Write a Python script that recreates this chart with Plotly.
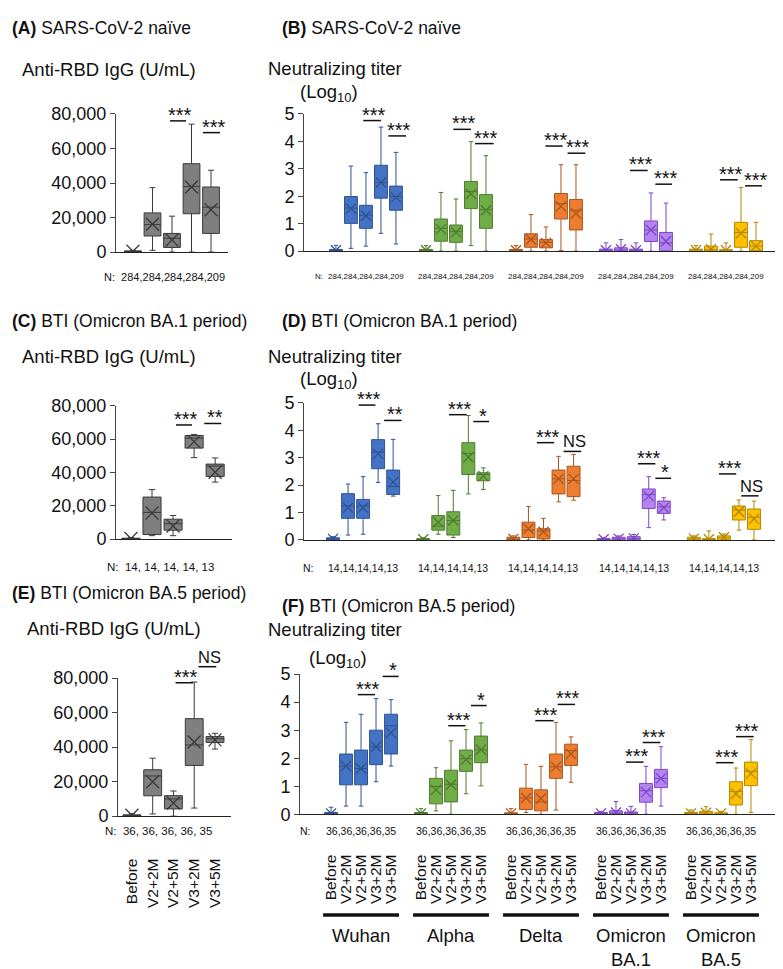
import plotly.graph_objects as go

W, H = 783, 969
FONT = "Liberation Sans, Arial, sans-serif"

timepoints = ["Before", "V2+2M", "V2+5M", "V3+2M", "V3+5M"]
variants = ["Wuhan", "Alpha", "Delta", "Omicron<br>BA.1", "Omicron<br>BA.5"]

# (A) anti-RBD IgG, SARS-CoV-2 naive
a_lo = [0, 1000, 0, 0, 0]
a_q1 = [0, 9300, 2700, 22200, 10800]
a_med = [300, 15900, 8000, 37900, 26000]
a_q3 = [700, 22700, 10800, 51200, 37700]
a_hi = [1000, 37300, 20800, 74100, 47400]
a_mean = [500, 16100, 7000, 37700, 24500]
a_n = [284, 284, 284, 284, 209]

# (C) anti-RBD IgG, BTI BA.1 period
c_lo = [0, 2000, 2000, 48900, 34200]
c_q1 = [0, 2700, 5300, 54600, 37600]
c_med = [200, 16000, 9200, 60600, 43800]
c_q3 = [500, 25200, 11900, 62200, 45000]
c_hi = [800, 29700, 14100, 62800, 48700]
c_mean = [300, 15600, 7800, 58500, 40100]
c_n = [14, 14, 14, 14, 13]

# (E) anti-RBD IgG, BTI BA.5 period
e_lo = [0, 1300, 0, 4700, 38900]
e_q1 = [0, 11800, 4200, 29400, 42700]
e_med = [400, 23300, 10000, 41300, 44900]
e_q3 = [800, 26900, 11900, 56500, 46100]
e_hi = [1500, 33600, 14600, 77700, 48000]
e_mean = [500, 19900, 7600, 43000, 44200]
e_n = [36, 36, 36, 36, 35]

# (B) neutralizing titer (log10), naive; rows = variants
b_lo = [[0, 0.1, 0.18, 0.65, 0.26], [0, 0, 0, 0.2, 0], [0, 0, 0, 0.02, 0], [0, 0, 0, 0, 0], [0, 0, 0, 0, 0]]
b_q1 = [[0, 1.01, 0.83, 1.93, 1.49], [0, 0.36, 0.32, 1.55, 0.83], [0, 0.14, 0.12, 1.17, 0.77], [0, 0, 0, 0.35, 0], [0, 0, 0, 0.14, 0]]
b_med = [[0.02, 1.57, 1.31, 2.5, 1.99], [0.02, 0.83, 0.71, 2.17, 1.51], [0.02, 0.44, 0.32, 1.73, 1.49], [0.02, 0.03, 0.02, 0.77, 0.3], [0.02, 0.05, 0.02, 0.68, 0.18]]
b_q3 = [[0.06, 1.99, 1.67, 3.13, 2.37], [0.06, 1.17, 0.95, 2.54, 2.06], [0.06, 0.63, 0.42, 2.1, 1.88], [0.07, 0.12, 0.07, 1.1, 0.68], [0.07, 0.18, 0.05, 1.05, 0.38]]
b_hi = [[0.21, 3.1, 2.86, 4.52, 3.6], [0.2, 2.14, 1.9, 3.99, 3.48], [0.2, 1.33, 0.88, 3.15, 3.15], [0.3, 0.42, 0.3, 2.12, 1.75], [0.2, 0.62, 0.3, 2.32, 1.05]]
b_mean = [[0.03, 1.55, 1.29, 2.5, 1.96], [0.03, 0.8, 0.69, 2.08, 1.49], [0.03, 0.42, 0.3, 1.63, 1.37], [0.03, 0.07, 0.03, 0.77, 0.36], [0.03, 0.07, 0.03, 0.65, 0.18]]
b_n = [284, 284, 284, 284, 209]

# (D) neutralizing titer, BTI BA.1 period
d_lo = [[0, 0.18, 0.21, 2.1, 1.6], [0, 0.21, 0.09, 1.68, 1.84], [0, 0, 0, 1.39, 1.45], [0, 0, 0, 0.45, 0.73], [0, 0, 0, 0.36, 0]]
d_q1 = [[0, 0.79, 0.79, 2.6, 1.66], [0, 0.36, 0.18, 2.39, 2.16], [0, 0.09, 0.04, 1.68, 1.58], [0, 0, 0, 1.15, 0.97], [0, 0, 0, 0.73, 0.39]]
d_med = [[0.03, 1.24, 1.24, 3.2, 1.95], [0.02, 0.51, 0.71, 3.16, 2.39], [0.03, 0.36, 0.33, 2.23, 2.17], [0.02, 0.04, 0.05, 1.66, 1.21], [0.04, 0.02, 0.08, 1.09, 0.83]]
d_q3 = [[0.08, 1.69, 1.48, 3.66, 2.55], [0.05, 0.89, 1.03, 3.55, 2.45], [0.1, 0.65, 0.41, 2.55, 2.69], [0.05, 0.1, 0.12, 1.86, 1.42], [0.1, 0.05, 0.15, 1.24, 1.13]]
d_hi = [[0.12, 2.04, 2.31, 4.24, 3.67], [0.08, 1.62, 1.81, 4.54, 2.63], [0.15, 1.22, 0.79, 3.05, 3.12], [0.08, 0.15, 0.2, 2.31, 1.54], [0.15, 0.33, 0.22, 1.46, 1.42]]
d_mean = [[0.04, 1.18, 1.18, 3.14, 2.11], [0.03, 0.65, 0.71, 3.02, 2.33], [0.04, 0.41, 0.3, 2.23, 2.23], [0.03, 0.05, 0.06, 1.6, 1.18], [0.05, 0.03, 0.1, 1.03, 0.77]]
d_n = [14, 14, 14, 14, 13]

# (F) neutralizing titer, BTI BA.5 period
f_lo = [[0, 0.29, 0.29, 1.16, 1.72], [0, 0.12, 0, 0.73, 1.01], [0, 0.06, 0, 0.15, 1.14], [0, 0, 0, 0, 0.29], [0, 0, 0, 0, 0.06]]
f_q1 = [[0, 1.05, 1.05, 1.77, 2.15], [0, 0.37, 0.44, 1.53, 1.84], [0, 0.17, 0.12, 1.28, 1.74], [0, 0, 0, 0.43, 0.95], [0, 0, 0, 0.33, 1.02]]
f_med = [[0.02, 1.72, 1.63, 2.41, 3.16], [0.02, 0.99, 1.07, 1.98, 2.3], [0.02, 0.58, 0.44, 1.69, 2.27], [0.02, 0.04, 0.03, 0.84, 1.28], [0.02, 0.04, 0.02, 0.81, 1.53]]
f_q3 = [[0.06, 2.15, 2.29, 3.0, 3.57], [0.06, 1.28, 1.57, 2.29, 2.79], [0.05, 0.93, 0.87, 2.15, 2.5], [0.06, 0.12, 0.08, 1.1, 1.6], [0.06, 0.1, 0.05, 1.16, 1.86]]
f_hi = [[0.25, 3.28, 3.57, 4.13, 4.09], [0.2, 1.66, 2.62, 3.02, 3.26], [0.2, 1.78, 1.71, 3.28, 2.76], [0.1, 0.45, 0.28, 1.71, 2.41], [0.15, 0.27, 0.1, 1.65, 2.67]]
f_mean = [[0.03, 1.72, 1.63, 2.41, 2.91], [0.03, 0.87, 1.05, 1.95, 2.3], [0.03, 0.58, 0.56, 1.69, 2.15], [0.03, 0.06, 0.03, 0.79, 1.28], [0.03, 0.05, 0.03, 0.73, 1.45]]
f_n = [36, 36, 36, 36, 35]

# significance brackets: (group, x0, x1, level, label), x relative to group's first box
sig_a = [(0, 1.9, 2.72, 76000, "***"), (0, 3.59, 4.46, 69200, "***")]
sig_c = [(0, 2.14, 2.9, 68500, "***"), (0, 3.48, 4.29, 69400, "**")]
sig_e = [(0, 2.1, 2.94, 77300, "***"), (0, 3.2, 4.06, 86600, "NS")]
sig_b = [(0, 1.82, 3.0, 4.76, "***"), (0, 3.49, 4.67, 4.2, "***"),
         (1, 1.82, 3.0, 4.44, "***"), (1, 3.27, 4.51, 3.92, "***"),
         (2, 1.96, 3.11, 3.83, "***"), (2, 3.44, 4.62, 3.57, "***"),
         (3, 1.6, 2.78, 2.94, "***"), (3, 3.29, 4.4, 2.44, "***"),
         (4, 1.6, 2.78, 2.6, "***"), (4, 3.27, 4.4, 2.38, "***")]
sig_d = [(0, 1.71, 2.82, 4.92, "***"), (0, 3.4, 4.56, 4.36, "**"),
         (1, 1.71, 2.89, 4.57, "***"), (1, 3.33, 4.38, 4.32, "*"),
         (2, 1.56, 2.71, 3.55, "***"), (2, 3.33, 4.51, 3.23, "NS"),
         (3, 2.29, 3.44, 2.78, "***"), (3, 3.44, 4.49, 2.25, "*"),
         (4, 1.67, 2.82, 2.41, "***"), (4, 3.16, 4.31, 1.61, "NS")]
sig_f = [(0, 1.78, 2.93, 4.27, "***"), (0, 3.44, 4.51, 4.92, "*"),
         (1, 1.82, 2.96, 3.16, "***"), (1, 3.33, 4.38, 3.88, "*"),
         (2, 1.62, 2.84, 3.34, "***"), (2, 3.11, 4.27, 3.92, "***"),
         (3, 1.67, 2.84, 1.86, "***"), (3, 2.78, 3.96, 2.56, "***"),
         (4, 1.67, 2.84, 1.84, "***"), (4, 3.0, 4.18, 2.77, "***")]

GRAY = ("#7f7f7f", "#3a3a3a")
VCOL = [("#4472c4", "#2f528f"), ("#70ad47", "#4e7a30"), ("#ed7d31", "#a9561e"),
        ("#b484f0", "#7d45c4"), ("#ffc000", "#b38600")]

# panel geometry in pixels: x left/right, y bottom/top
panels = {
    "A": dict(n=1, px=(108, 220), py=(239, 98), xr=(-0.87, 4.87), yr=(0, 80000)),
    "B": dict(n=2, px=(296, 778), py=(238, 98), xr=(-2.13, 30.0), yr=(0, 5)),
    "C": dict(n=3, px=(108, 224), py=(532, 396), xr=(-0.71, 4.8), yr=(0, 80000)),
    "D": dict(n=4, px=(296, 778), py=(533, 393), xr=(-1.93, 30.13), yr=(0, 5)),
    "E": dict(n=5, px=(110, 223), py=(815, 674), xr=(-0.67, 4.77), yr=(0, 80000)),
    "F": dict(n=6, px=(292, 780), py=(813, 670), xr=(-2.07, 30.47), yr=(0, 5)),
}


def xp(p, x):
    g = panels[p]
    return (g["px"][0] + (x - g["xr"][0]) / (g["xr"][1] - g["xr"][0]) * (g["px"][1] - g["px"][0])) / W


def yp(p, y):
    g = panels[p]
    return 1 - (g["py"][0] + (y - g["yr"][0]) / (g["yr"][1] - g["yr"][0]) * (g["py"][1] - g["py"][0])) / H


def ax_names(p):
    n = panels[p]["n"]
    s = "" if n == 1 else str(n)
    return "x" + s, "y" + s, "xaxis" + s, "yaxis" + s


fig = go.Figure()
annotations = []
shapes = []


def ann(text, x, y, size, xanchor="left", yanchor="middle", **kw):
    annotations.append(dict(text=text, x=x / W, y=1 - y / H, xref="paper", yref="paper",
                            showarrow=False, xanchor=xanchor, yanchor=yanchor,
                            font=dict(size=size, color="#111", family=FONT), **kw))


def add_boxes(p, pos, lo, q1, med, q3, hi, mean, colors, msize):
    xa, ya, _, _ = ax_names(p)
    fig.add_trace(go.Box(x=pos, q1=q1, median=med, q3=q3, lowerfence=lo, upperfence=hi,
                         xaxis=xa, yaxis=ya, width=0.86, whiskerwidth=0.35,
                         fillcolor=colors[0], line=dict(color=colors[1], width=1),
                         boxpoints=False, showlegend=False, hoverinfo="skip"))
    fig.add_trace(go.Scatter(x=pos, y=mean, mode="markers", xaxis=xa, yaxis=ya,
                             marker=dict(symbol="x-thin", size=msize,
                                         line=dict(color=colors[1], width=1.3)),
                             showlegend=False, hoverinfo="skip"))


def add_sig(p, sigs, step):
    for g, x0, x1, lev, lab in sigs:
        a = xp(p, g * step + x0)
        b = xp(p, g * step + x1)
        y = yp(p, lev)
        shapes.append(dict(type="line", xref="paper", yref="paper", x0=a, x1=b, y0=y, y1=y,
                           line=dict(color="#111", width=1.5)))
        star = lab != "NS"
        annotations.append(dict(text=lab, x=(a + b) / 2 + 2 / W, y=y, xref="paper", yref="paper",
                                showarrow=False, xanchor="center", yanchor="bottom",
                                yshift=-7 if star else -1,
                                font=dict(size=20 if star else 16.5, color="#111", family=FONT)))


# IgG panels
for p, d in [("A", (a_lo, a_q1, a_med, a_q3, a_hi, a_mean)),
             ("C", (c_lo, c_q1, c_med, c_q3, c_hi, c_mean)),
             ("E", (e_lo, e_q1, e_med, e_q3, e_hi, e_mean))]:
    add_boxes(p, list(range(5)), *d, GRAY, 13)

add_sig("A", sig_a, 0)
add_sig("C", sig_c, 0)
add_sig("E", sig_e, 0)

# neutralizing panels
for p, d in [("B", (b_lo, b_q1, b_med, b_q3, b_hi, b_mean)),
             ("D", (d_lo, d_q1, d_med, d_q3, d_hi, d_mean)),
             ("F", (f_lo, f_q1, f_med, f_q3, f_hi, f_mean))]:
    for g in range(5):
        add_boxes(p, [g * 6 + i for i in range(5)], *[s[g] for s in d], VCOL[g], 10)

add_sig("B", sig_b, 6)
add_sig("D", sig_d, 6)
add_sig("F", sig_f, 6)

# axes
layout_axes = {}
for p, g in panels.items():
    xa, ya, xk, yk = ax_names(p)
    multi = p in ("B", "D", "F")
    xax = dict(domain=[g["px"][0] / W, g["px"][1] / W], range=list(g["xr"]), anchor=ya,
               showline=True, linecolor="#222", linewidth=1.3, ticks="", showgrid=False,
               zeroline=False, showticklabels=False)
    if p in ("E", "F"):
        pos = [gi * 6 + i for gi in range(5) for i in range(5)] if multi else list(range(5))
        xax.update(showticklabels=True, tickvals=pos, ticktext=timepoints * (5 if multi else 1),
                   tickangle=-90, ticklabelstandoff=35 if p == "E" else 33,
                   tickfont=dict(size=15.5, color="#111", family=FONT))
    yax = dict(domain=[1 - g["py"][0] / H, 1 - g["py"][1] / H], range=list(g["yr"]), anchor=xa,
               showline=True, linecolor="#444", linewidth=1, ticks="outside", ticklen=5,
               tickcolor="#444", showgrid=False, zeroline=False,
               tickfont=dict(size=18, color="#111", family=FONT))
    if multi:
        yax.update(tickvals=[0, 1, 2, 3, 4, 5])
    else:
        yax.update(tickvals=[0, 20000, 40000, 60000, 80000], tickformat=",")
    layout_axes[xk] = xax
    layout_axes[yk] = yax

# panel titles and axis titles
ann("<b>(A)</b> SARS-CoV-2 naïve", 2, 10, 17.5)
ann("<b>(B)</b> SARS-CoV-2 naïve", 272, 10, 17.5)
ann("<b>(C)</b> BTI (Omicron BA.1 period)", 2, 309, 17.5)
ann("<b>(D)</b> BTI (Omicron BA.1 period)", 272, 309, 17.5)
ann("<b>(E)</b> BTI (Omicron BA.5 period)", 2, 587, 17.5)
ann("<b>(F)</b> BTI (Omicron BA.5 period)", 272, 600, 17.5)

for y in (53, 346):
    ann("Anti-RBD IgG (U/mL)", 12, y, 18.5)
ann("Anti-RBD IgG (U/mL)", 17, 623, 18.5)
for y1, y2, xc in ((52, 77, 321), (346, 370, 321), (624, 655, 330)):
    ann("Neutralizing titer", 258, y1, 18.5)
    ann("(Log<sub>10</sub>)", xc, y2, 18.5, xanchor="center")

# N rows
ann("N:  " + ",".join(str(v) for v in a_n), 94, 264, 11)
ann("N:  " + ", ".join(str(v) for v in c_n), 97, 561, 11.5)
ann("N:  " + ", ".join(str(v) for v in e_n), 95, 830, 11.5)
for p, nl, y, size, nx in (("B", b_n, 264, 8, 311), ("D", d_n, 562, 10.5, 300), ("F", f_n, 830, 10.5, 297)):
    ann("N:", nx, y, size, xanchor="center")
    for g in range(5):
        annotations.append(dict(text=",".join(str(v) for v in nl), x=xp(p, g * 6 + 2), y=1 - y / H,
                                xref="paper", yref="paper", showarrow=False, xanchor="center",
                                yanchor="middle", font=dict(size=size, color="#111", family=FONT)))

# variant bars and labels under F
for g in range(5):
    shapes.append(dict(type="line", xref="paper", yref="paper",
                       x0=xp("F", g * 6 + 2 - 2.53), x1=xp("F", g * 6 + 2 + 2.53),
                       y0=1 - 916 / H, y1=1 - 916 / H, line=dict(color="#111", width=3.5)))
    annotations.append(dict(text=variants[g], x=xp("F", g * 6 + 2), y=1 - 924 / H,
                            xref="paper", yref="paper", showarrow=False, xanchor="center",
                            yanchor="top", font=dict(size=18.5, color="#111", family=FONT)))

fig.update_layout(width=W, height=H, margin=dict(l=0, r=0, t=0, b=0),
                  paper_bgcolor="white", plot_bgcolor="white", boxmode="overlay",
                  font=dict(family=FONT, color="#111"), showlegend=False,
                  annotations=annotations, shapes=shapes, **layout_axes)

fig.write_html("out.html")
